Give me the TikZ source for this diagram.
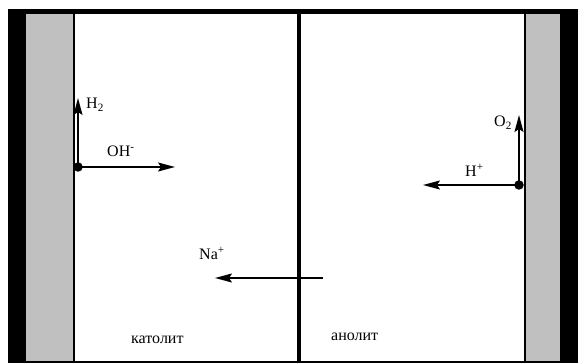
\documentclass[tikz,border=0pt]{standalone}
\usepackage{fontspec}
\setmainfont{Liberation Serif}
\usetikzlibrary{arrows.meta}
\definecolor{electrode}{RGB}{192,192,192}
\begin{document}
\begin{tikzpicture}[x=1pt,y=-1pt,
    ion/.style={-{Stealth[length=17pt,width=9pt,inset=3pt]},line width=1.6pt},
    lbl/.style={inner sep=0pt,anchor=base west,font=\fontsize{16}{19}\selectfont},
    dot/.style={circle,fill,inner sep=0pt,minimum size=9.5pt}]
  \useasboundingbox (0,0) rectangle (578,363);
  \fill[electrode] (26,14) rectangle (73,361);
  \fill[electrode] (526,14) rectangle (560,361);
  \fill (8,9) rectangle (26,363);
  \fill (560,9) rectangle (578,363);
  \fill (8,9) rectangle (578,14);
  \fill (8,360.5) rectangle (578,363);
  \draw[line width=2pt] (74,14) -- (74,361);
  \draw[line width=2pt] (524.5,14) -- (524.5,361);
  \draw[line width=4pt] (299,14) -- (299,361);
  \draw
    (78,167) node[dot] (cat){}
    (519,185) node[dot] (an){}
    (78,98) coordinate (h2)
    (175,167) coordinate (oh)
    (519,115) coordinate (o2)
    (423,185) coordinate (h)
    (323,278) coordinate (nastart)
    (215,278) coordinate (na);
  \begin{scope}[ion]
    \draw (cat.center) to (h2);
    \draw (cat.center) to (oh);
    \draw (an.center) to (o2);
    \draw (an.center) to (h);
    \draw (nastart) to (na);
  \end{scope}
  \node[lbl] (h2lbl) at (86,109) {H\textsubscript{2}};
  \node[lbl] (ohlbl) at (107,157) {OH\textsuperscript{-}};
  \node[lbl] (o2lbl) at (494,127) {O\textsubscript{2}};
  \node[lbl] (hlbl) at (465,177) {H\textsuperscript{+}};
  \node[lbl] (nalbl) at (199,260) {Na\textsuperscript{+}};
  \node[lbl] (katlbl) at (131,343) {католит};
  \node[lbl] (anlbl) at (331,340) {анолит};
\end{tikzpicture}
\end{document}
